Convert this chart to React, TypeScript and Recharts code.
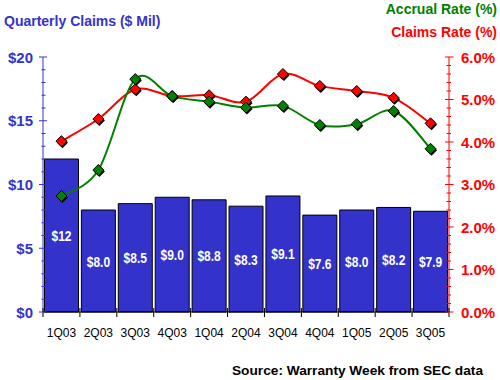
import React from 'react';
import { ComposedChart, Bar, Line, XAxis, YAxis, LabelList } from 'recharts';

const quarters = ['1Q03', '2Q03', '3Q03', '4Q03', '1Q04', '2Q04', '3Q04', '4Q04', '1Q05', '2Q05', '3Q05'];
const claimsMil = [12, 8.0, 8.5, 9.0, 8.8, 8.3, 9.1, 7.6, 8.0, 8.2, 7.9];
const claimsLabels = ['$12', '$8.0', '$8.5', '$9.0', '$8.8', '$8.3', '$9.1', '$7.6', '$8.0', '$8.2', '$7.9'];
const accrualRate = [2.73, 3.34, 5.48, 5.08, 4.95, 4.81, 4.85, 4.4, 4.42, 4.73, 3.84];
const claimsRate = [4.02, 4.54, 5.24, 5.08, 5.1, 4.95, 5.6, 5.32, 5.2, 5.04, 4.44];

const leftTicks = [0, 1, 2, 3, 4, 5, 6, 7, 8, 9, 10, 11, 12, 13, 14, 15, 16, 17, 18, 19, 20];
const leftMajor = [0, 5, 10, 15, 20];
const rightTicks = [0, 0.2, 0.4, 0.6, 0.8, 1, 1.2, 1.4, 1.6, 1.8, 2, 2.2, 2.4, 2.6, 2.8, 3, 3.2, 3.4, 3.6, 3.8, 4, 4.2, 4.4, 4.6, 4.8, 5, 5.2, 5.4, 5.6, 5.8, 6];
const rightMajor = [0, 1, 2, 3, 4, 5, 6];

const data = quarters.map((q, i) => ({
  quarter: q,
  claims: claimsMil[i],
  label: claimsLabels[i],
  accrual: accrualRate[i],
  rate: claimsRate[i],
}));

const W = 500;
const H = 380;
const LEFT_W = 43;
const RIGHT_W = 51;
const PLOT_W = W - LEFT_W - RIGHT_W;
const BAND = PLOT_W / quarters.length;

const FONT = '"Liberation Sans", Arial, sans-serif';
const BLUE = '#3333cc';
const GREEN = '#008000';
const RED = '#ff0000';

// Excel-like smoothing (Catmull-Rom style Bezier)
const smoothCurve = (context: any) => {
  let xs: number[] = [];
  let ys: number[] = [];
  return {
    areaStart() {},
    areaEnd() {},
    lineStart() {
      xs = [];
      ys = [];
    },
    point(x: number, y: number) {
      xs.push(+x);
      ys.push(+y);
    },
    lineEnd() {
      const n = xs.length;
      if (n === 0) return;
      context.moveTo(xs[0], ys[0]);
      if (n === 1) return;
      for (let i = 0; i < n - 1; i++) {
        const p0 = i > 0 ? i - 1 : i;
        const p3 = i + 2 < n ? i + 2 : i + 1;
        const c1x = xs[i] + (xs[i + 1] - xs[p0]) / 6;
        const c1y = ys[i] + (ys[i + 1] - ys[p0]) / 6;
        const c2x = xs[i + 1] - (xs[p3] - xs[i]) / 6;
        const c2y = ys[i + 1] - (ys[p3] - ys[i]) / 6;
        context.bezierCurveTo(c1x, c1y, c2x, c2y, xs[i + 1], ys[i + 1]);
      }
    },
  };
};

const makeDiamond = (fill: string) => (props: any) => {
  const { cx, cy } = props;
  if (cx == null || cy == null) return <g />;
  const r = 5.5;
  const pts = (dx: number, dy: number) =>
    `${cx + dx},${cy + dy - r} ${cx + dx + r},${cy + dy} ${cx + dx},${cy + dy + r} ${cx + dx - r},${cy + dy}`;
  return (
    <g>
      <polygon points={pts(1, 1.5)} fill="#000" />
      <polygon points={pts(0, 0)} fill={fill} stroke="#000" strokeWidth={1} />
    </g>
  );
};

const BarLabel = (props: any) => {
  const { x, y, width, height, value } = props;
  const cx = Number(x) + Number(width) / 2;
  const cy = Number(y) + Number(height) / 2;
  return (
    <text
      transform={`translate(${cx},${cy + 5.5}) scale(0.8,1)`}
      textAnchor="middle"
      fill="#fff"
      fontFamily={FONT}
      fontWeight="bold"
      fontSize={15}
    >
      {value}
    </text>
  );
};

const LeftTick = (props: any) => {
  const { x, y, payload } = props;
  const v = payload.value;
  const major = leftMajor.includes(v);
  return (
    <g>
      <line x1={x - (major ? 4 : 1.5)} x2={x + (major ? 4 : 2.5)} y1={y} y2={y} stroke={BLUE} strokeWidth={1} />
      {major && (
        <text x={x - 10} y={y} dy={5.5} textAnchor="end" fill={BLUE} fontFamily={FONT} fontWeight="bold" fontSize={15}>
          {`$${v}`}
        </text>
      )}
    </g>
  );
};

const RightTick = (props: any) => {
  const { x, y, payload } = props;
  const v = payload.value;
  const major = rightMajor.some((m) => Math.abs(m - v) < 1e-6);
  return (
    <g>
      <line x1={x - (major ? 4 : 2.5)} x2={x + (major ? 4.5 : 2)} y1={y} y2={y} stroke={RED} strokeWidth={1} />
      {major && (
        <text x={x + 12} y={y} dy={5.5} textAnchor="start" fill={RED} fontFamily={FONT} fontWeight="bold" fontSize={15}>
          {`${v.toFixed(1)}%`}
        </text>
      )}
    </g>
  );
};

const BottomTick = (props: any) => {
  const { x, y, payload, index } = props;
  const last = index === quarters.length - 1;
  return (
    <g>
      <line x1={x - BAND / 2} x2={x - BAND / 2} y1={y - 4} y2={y + 5} stroke="#000" strokeWidth={1} />
      {last && <line x1={x + BAND / 2} x2={x + BAND / 2} y1={y - 4} y2={y + 5} stroke="#000" strokeWidth={1} />}
      <text x={x} y={y} dy={25} textAnchor="middle" fill="#000" fontFamily={FONT} fontSize={12}>
        {payload.value}
      </text>
    </g>
  );
};

export default function App() {
  return (
    <div style={{ position: 'absolute', left: 0, top: 0, width: W, height: H, background: '#fff' }}>
      <ComposedChart
        width={W}
        height={H}
        data={data}
        margin={{ top: 57, right: 0, left: 0, bottom: 38 }}
        barCategoryGap="4%"
      >
        <XAxis
          dataKey="quarter"
          height={30}
          interval={0}
          axisLine={{ stroke: '#000' }}
          tickLine={false}
          tickSize={0}
          tickMargin={0}
          tick={<BottomTick />}
        />
        <YAxis
          yAxisId="left"
          orientation="left"
          width={LEFT_W}
          domain={[0, 20]}
          ticks={leftTicks}
          interval={0}
          axisLine={{ stroke: BLUE }}
          tickLine={false}
          tickSize={0}
          tickMargin={0}
          tick={<LeftTick />}
        />
        <YAxis
          yAxisId="right"
          orientation="right"
          width={RIGHT_W}
          domain={[0, 6]}
          ticks={rightTicks}
          interval={0}
          axisLine={{ stroke: RED }}
          tickLine={false}
          tickSize={0}
          tickMargin={0}
          tick={<RightTick />}
        />
        <Bar yAxisId="left" dataKey="claims" fill={BLUE} stroke="#000" strokeWidth={1} isAnimationActive={false}>
          <LabelList dataKey="label" content={<BarLabel />} />
        </Bar>
        <Line
          yAxisId="right"
          dataKey="rate"
          type={smoothCurve as any}
          stroke={RED}
          strokeWidth={2}
          dot={makeDiamond(RED)}
          activeDot={false}
          isAnimationActive={false}
        />
        <Line
          yAxisId="right"
          dataKey="accrual"
          type={smoothCurve as any}
          stroke={GREEN}
          strokeWidth={2}
          dot={makeDiamond(GREEN)}
          activeDot={false}
          isAnimationActive={false}
        />
      </ComposedChart>
      <svg
        width={W}
        height={H}
        style={{ position: 'absolute', left: 0, top: 0, pointerEvents: 'none' }}
      >
        <text x={4} y={26} fill={BLUE} fontFamily={FONT} fontWeight="bold" fontSize={14}>
          Quarterly Claims ($ Mil)
        </text>
        <text x={497} y={14} textAnchor="end" fill={GREEN} fontFamily={FONT} fontWeight="bold" fontSize={14}>
          Accrual Rate (%)
        </text>
        <text x={497} y={37} textAnchor="end" fill={RED} fontFamily={FONT} fontWeight="bold" fontSize={14}>
          Claims Rate (%)
        </text>
        <text x={483} y={375} textAnchor="end" fill="#000" fontFamily={FONT} fontWeight="bold" fontSize={13.7}>
          Source: Warranty Week from SEC data
        </text>
      </svg>
    </div>
  );
}
